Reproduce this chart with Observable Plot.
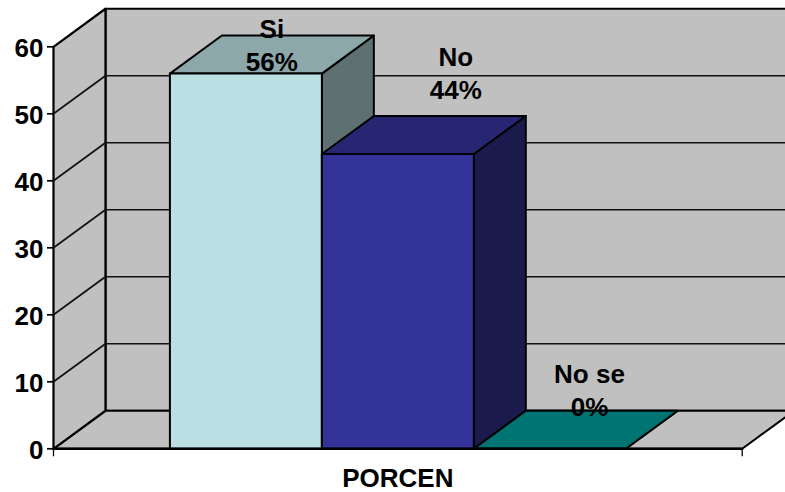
<!DOCTYPE html>
<html>
<head>
<meta charset="utf-8">
<style>
  html, body { margin: 0; padding: 0; background: #fff; }
  svg { display: block; }
</style>
<script src="https://cdn.jsdelivr.net/npm/d3@7"></script>
<script src="https://cdn.jsdelivr.net/npm/@observablehq/plot@0.6"></script>
</head>
<body>
<div id="chart"></div>
<script>
// Survey answers
const categories = ["Si", "No", "No se"];
const percents = [56, 44, 0];
const axisTitle = "PORCEN";
const valueTicks = [0, 10, 20, 30, 40, 50, 60];

// Per-bar colours: front, top and side faces
const frontColors = ["#BBE0E3", "#333399", "#009999"];
const topColors = ["#8CA8AA", "#262673", "#007373"];
const sideColors = ["#5E7072", "#1A1A4D", "#004D4D"];

// Oblique projection, in scale units: how far the back plane sits from the front
const depthX = 0.342;
const depthY = 5.68;

// Category slots run 0..3; the gap keeps the bars off the side walls
const gap = 0.766;
const xMin = -gap;
const xMax = 3 + gap;
const yMin = 0;
const yMax = 60;

// Where each data label is centred, relative to its own bar
const labelShiftX = [0.5 + depthX / 2, 0.881, 0.761];
const labelShiftY = [4.4, 12.3, 9.0];

const face = (color, pts, sw = 2) =>
  Plot.line(pts.map(([x, y]) => ({x, y})), {
    x: "x",
    y: "y",
    fill: color,
    stroke: "#000",
    strokeWidth: sw,
    strokeLinejoin: "round",
    curve: "linear-closed"
  });

const edge = (pts, sw = 1.7, color = "#111") =>
  Plot.line(pts.map(([x, y]) => ({x, y})), {
    x: "x",
    y: "y",
    stroke: color,
    strokeWidth: sw
  });

const wallColor = "#C0C0C0";
const marks = [];

// Back wall, floor and left wall
marks.push(face(wallColor, [[xMin + depthX, yMin + depthY], [xMax + depthX, yMin + depthY], [xMax + depthX, yMax + depthY], [xMin + depthX, yMax + depthY]], 2.2));
marks.push(face(wallColor, [[xMin, yMin], [xMax, yMin], [xMax + depthX, yMin + depthY], [xMin + depthX, yMin + depthY]], 2));
marks.push(face(wallColor, [[xMin, yMin], [xMin + depthX, yMin + depthY], [xMin + depthX, yMax + depthY], [xMin, yMax]], 2.2));

// Gridlines wrap from the left wall onto the back wall
for (const t of valueTicks.slice(1, -1)) {
  marks.push(edge([[xMin, t], [xMin + depthX, t + depthY], [xMax + depthX, t + depthY]]));
}

// Bars, painted left to right so each one covers its neighbour's side face
categories.forEach((c, i) => {
  const v = percents[i];
  const x0 = i;
  const x1 = i + 1;
  marks.push(face(sideColors[i], [[x1, 0], [x1 + depthX, depthY], [x1 + depthX, v + depthY], [x1, v]]));
  marks.push(face(topColors[i], [[x0, v], [x1, v], [x1 + depthX, v + depthY], [x0 + depthX, v + depthY]]));
  marks.push(face(frontColors[i], [[x0, 0], [x1, 0], [x1, v], [x0, v]]));
});

// Value axis: tick marks, then the labels sitting just below them
marks.push(Plot.axisY({ticks: valueTicks, tickSize: 6, tickFormat: () => "", label: null, stroke: "#000", strokeWidth: 1.7}));
marks.push(Plot.axisY({ticks: valueTicks, tickSize: 0, tickPadding: 10, dy: 2, label: null, fill: "#000"}));

// Category axis and baseline
marks.push(Plot.axisX({ticks: [xMin, xMax], tickSize: 8, tickFormat: () => "", label: null, stroke: "#000", strokeWidth: 1.3}));
marks.push(Plot.axisX({ticks: [(xMin + xMax) / 2], tickSize: 0, tickPadding: 20, tickFormat: () => axisTitle, label: null, fill: "#000"}));
marks.push(edge([[xMin, 0], [xMax, 0]], 2.6, "#000"));

// Data labels: category name over the percentage
marks.push(Plot.text(categories.map((c, i) => ({
  x: i + labelShiftX[i],
  y: percents[i] + labelShiftY[i],
  label: `${c}\n${percents[i]}%`
})), {
  x: "x",
  y: "y",
  text: "label",
  fill: "#000",
  lineHeight: 1.28
}));

const chart = Plot.plot({
  width: 785,
  height: 492,
  marginLeft: 53,
  marginRight: 43.3,
  marginTop: 46.3,
  marginBottom: 43.7,
  x: {type: "linear", domain: [xMin, xMax]},
  y: {type: "linear", domain: [yMin, yMax]},
  style: {
    fontFamily: "'Liberation Sans', Arial, sans-serif",
    fontWeight: "bold",
    fontSize: "26px",
    background: "#fff",
    color: "#000"
  },
  marks
});
document.getElementById("chart").appendChild(chart);
</script>
</body>
</html>
